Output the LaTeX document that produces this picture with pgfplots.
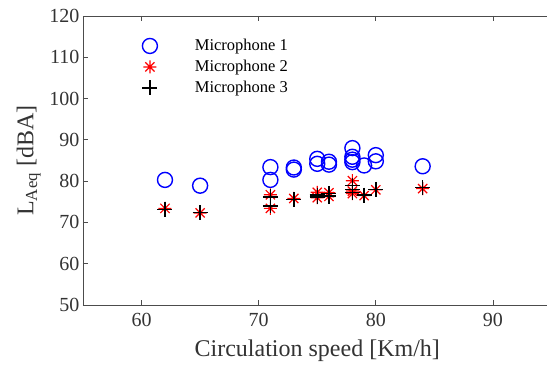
\documentclass[border=0pt]{standalone}
\usepackage{pgfplots}
\pgfplotsset{compat=1.18}
\usepackage{fontspec}
\setmainfont{Liberation Serif}
\pgfdeclareplotmark{mstar}{%
  \pgfpathmoveto{\pgfqpoint{-\pgfplotmarksize}{0pt}}\pgfpathlineto{\pgfqpoint{\pgfplotmarksize}{0pt}}%
  \pgfpathmoveto{\pgfqpoint{0pt}{-\pgfplotmarksize}}\pgfpathlineto{\pgfqpoint{0pt}{\pgfplotmarksize}}%
  \pgfpathmoveto{\pgfqpoint{-0.707\pgfplotmarksize}{-0.707\pgfplotmarksize}}\pgfpathlineto{\pgfqpoint{0.707\pgfplotmarksize}{0.707\pgfplotmarksize}}%
  \pgfpathmoveto{\pgfqpoint{-0.707\pgfplotmarksize}{0.707\pgfplotmarksize}}\pgfpathlineto{\pgfqpoint{0.707\pgfplotmarksize}{-0.707\pgfplotmarksize}}%
  \pgfusepathqstroke}
\begin{document}
\begin{tikzpicture}
\begin{axis}[
  scale only axis,
  width=468.5pt, height=289pt,
  xmin=55, xmax=95, ymin=50, ymax=120,
  xtick={60,70,80,90}, ytick={50,60,...,120},
  tick align=inside,
  major tick length=5pt,
  axis line style={draw=black!70, line width=0.8pt},
  every tick/.style={draw=black!70, line width=0.8pt},
  ticklabel style={font=\fontsize{20}{20}\selectfont, text=black!80},
  xticklabel style={yshift=-5pt},
  /pgf/number format/assume math mode=true,
  xlabel={Circulation speed [Km/h]},
  ylabel={L\textsubscript{Aeq} [dBA]},
  label style={font=\fontsize{24}{24}\selectfont, text=black!80},
  xlabel style={yshift=-6pt},
  ylabel style={yshift=2pt},
  legend style={draw=none, fill=none, at={(0.12,0.935)}, anchor=north west,
    font=\fontsize{16.5}{16.5}\selectfont, row sep=3pt,
    nodes={inner sep=2.5pt}},
  legend cell align=left,
  legend image code/.code={\draw[#1] plot coordinates {(0.25cm,0cm)};},
  every axis legend/.append style={column sep=35pt},
]
\addplot[only marks, mark=o, mark size=7.5pt, blue, line width=1.4pt] coordinates {
(62,80.3) (65,78.9) (71,83.4) (71,80.3) (73,82.8) (73,83.3)
(75,84.2) (75,85.4) (76,84.0) (76,84.7) (78,88.0) (78,85.9) (78,84.6)
(78,85.2) (79,83.8) (80,84.8) (80,86.3) (84,83.6)
};
\addlegendentry{Microphone 1}
\addplot[only marks, mark=mstar, mark size=6.5pt, red, line width=1.2pt] coordinates {
(62,73.4) (65,72.3) (71,76.7) (71,73.4) (73,75.8) (75,77.3) (75,76.0)
(76,77.2) (76,76.3) (78,80.1) (78,77.6) (78,77.0) (79,76.5) (80,77.9) (84,78.2)
};
\addlegendentry{Microphone 2}
\addplot[only marks, mark=+, mark size=7.5pt, black, line width=1.4pt] coordinates {
(62,73.2) (65,72.4) (71,76.2) (71,74.0) (73,75.5) (75,76.2) (75,76.6)
(76,76.4) (76,77.0) (78,79.0) (78,78.0) (78,77.2) (79,76.6) (80,78.0) (84,78.4)
};
\addlegendentry{Microphone 3}
\end{axis}
\pgfresetboundingbox
\path[use as bounding box] (-83pt,-61pt) rectangle (464pt,305pt);
\end{tikzpicture}
\end{document}
